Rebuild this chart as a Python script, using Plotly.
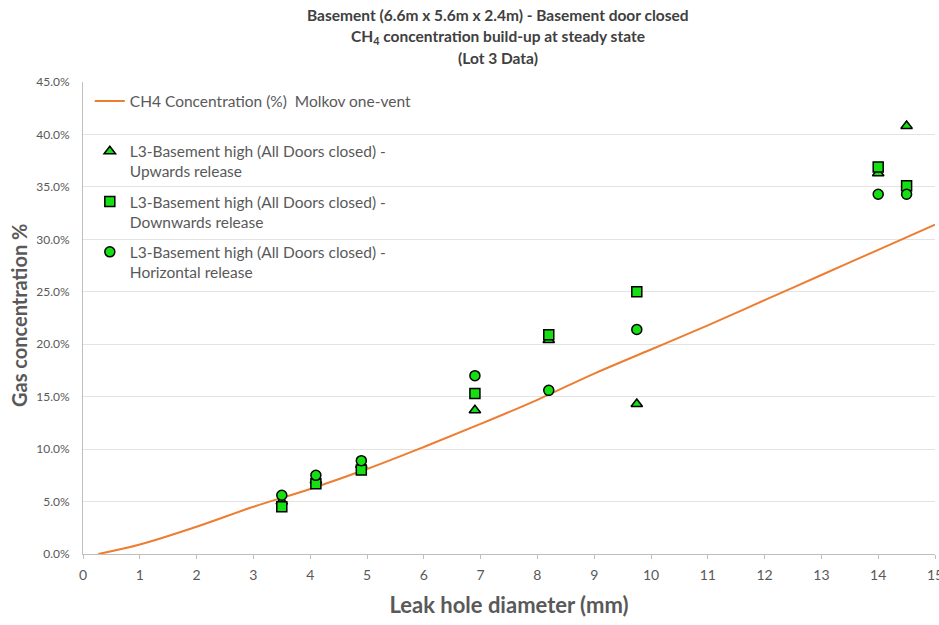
import plotly.graph_objects as go

# Molkov one-vent model curve (leak diameter in mm, CH4 concentration in %)
model_d = [0.27, 1, 2, 3, 4, 5, 6, 7, 8, 9, 10, 11, 12, 13, 14, 15]
model_c = [0.0, 0.9, 2.6, 4.5, 6.2, 8.1, 10.2, 12.4, 14.7, 17.2, 19.5, 21.8, 24.2, 26.6, 29.0, 31.4]

# Lot 3 measurements, basement high sensor, all doors closed
leak_d = [3.5, 4.1, 4.9, 6.9, 8.2, 9.75, 14.0, 14.5]
upwards = [5.0, 7.0, 8.5, 13.7, 20.4, 14.3, 36.3, 40.8]
downwards = [4.5, 6.7, 8.0, 15.3, 20.9, 25.0, 36.9, 35.1]
horizontal = [5.6, 7.5, 8.9, 17.0, 15.6, 21.4, 34.3, 34.3]

x_ticks = list(range(0, 16))
y_ticks = [0, 5, 10, 15, 20, 25, 30, 35, 40, 45]
y_tick_labels = [f"{v:.1f}%" for v in y_ticks]

title_lines = [
    "Basement (6.6m x 5.6m x 2.4m) - Basement door closed",
    "CH<sub>4</sub> concentration build-up at steady state",
    "(Lot 3 Data)",
]

FONT = "Lato, 'Open Sans', sans-serif"
TEXT = "#595959"
DARK = "#404040"
GREEN = "#14e014"

fig = go.Figure()

fig.add_trace(go.Scatter(
    x=model_d, y=model_c, mode="lines", line=dict(color="#ed7d31", width=2),
    name="CH4 Concentration (%)  Molkov one-vent<br> ", legendgroup="a", line_shape="spline",
))

marker_line = dict(color="black", width=1.5)
series = [
    ("triangle-up", upwards, "L3-Basement high (All Doors closed) -<br>Upwards release", 10),
    ("square", downwards, "L3-Basement high (All Doors closed) -<br>Downwards release", 10),
    ("circle", horizontal, "L3-Basement high (All Doors closed) -<br>Horizontal release", 10),
]
for i, (sym, vals, label, size) in enumerate(series):
    fig.add_trace(go.Scatter(
        x=leak_d, y=vals, mode="markers", name=label, legendgroup=f"g{i}",
        marker=dict(symbol=sym, size=size, color=GREEN, line=marker_line),
    ))

PLOT_TOP, PLOT_H = 82, 472
annotations = []
for line, ypx in zip(title_lines, [15, 37, 58]):
    annotations.append(dict(
        text=f"<b>{line}</b>", xref="paper", yref="paper",
        x=(498 - 83) / 852, y=(PLOT_TOP + PLOT_H - ypx) / PLOT_H,
        xanchor="center", yanchor="middle", showarrow=False,
        font=dict(family=FONT, size=15.5, color=DARK),
    ))
annotations.append(dict(
    text="<b>Gas concentration %</b>", xref="paper", yref="paper",
    x=(19 - 83) / 852, y=(PLOT_TOP + PLOT_H - 316) / PLOT_H,
    xanchor="center", yanchor="middle", textangle=-90, showarrow=False,
    font=dict(family=FONT, size=20, color=TEXT),
))

fig.update_layout(
    width=939, height=625,
    paper_bgcolor="white", plot_bgcolor="white",
    margin=dict(l=83, r=4, t=82, b=71),
    font=dict(family=FONT, color=TEXT, size=13),
    annotations=annotations,
    legend=dict(
        x=0.008, y=0.995, xanchor="left", yanchor="top",
        bgcolor="rgba(255,255,255,0)", font=dict(family=FONT, size=15.5, color=TEXT),
        tracegroupgap=7, valign="top",
    ),
    showlegend=True,
)

fig.update_xaxes(
    range=[0, 15], tickmode="array", tickvals=x_ticks,
    showgrid=False, zeroline=False, showline=True, linecolor="#bfbfbf", linewidth=1,
    ticks="outside", ticklen=4, tickcolor="#bfbfbf", ticklabelstandoff=4,
    ticklabeloverflow="allow", automargin=False,
    tickfont=dict(family=FONT, size=14, color=TEXT),
    title=dict(text="<b>Leak hole diameter (mm)</b>", font=dict(family=FONT, size=22, color=TEXT), standoff=15),
)
fig.update_yaxes(
    range=[0, 45], tickmode="array", tickvals=y_ticks, ticktext=y_tick_labels,
    showgrid=True, gridcolor="#e3e3e3", gridwidth=1, zeroline=False,
    showline=True, linecolor="#bfbfbf", linewidth=1, ticklabelstandoff=10,
    tickfont=dict(family=FONT, size=12, color=TEXT),
)

fig.write_html("out.html")
